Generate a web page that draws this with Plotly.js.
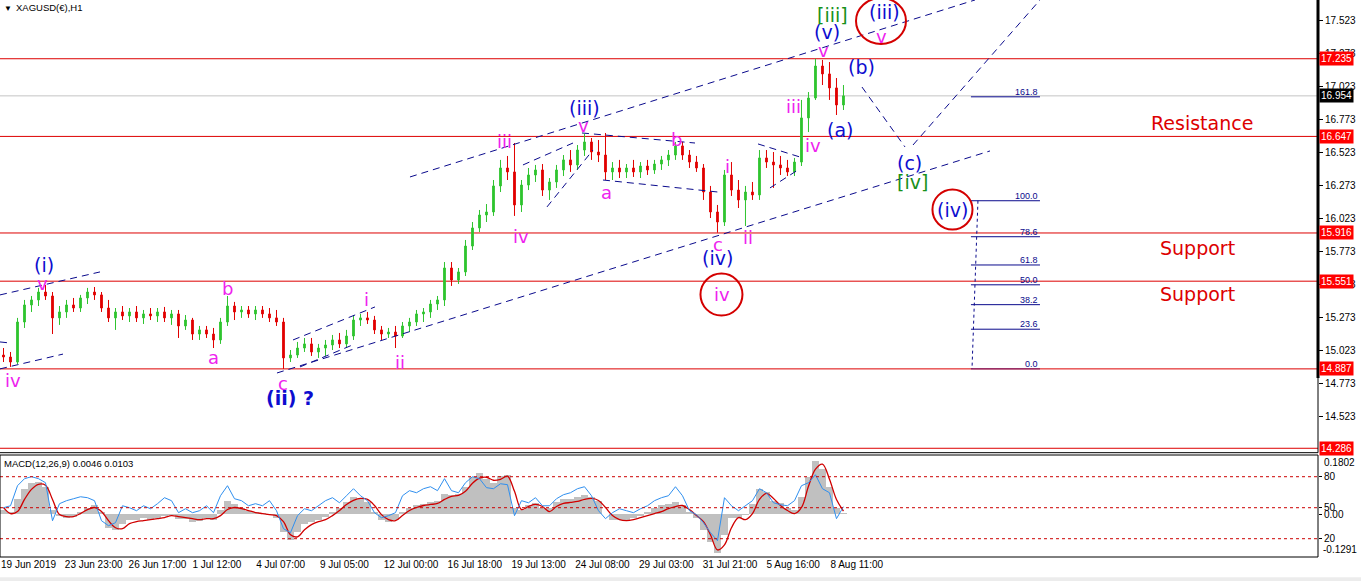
<!DOCTYPE html>
<html><head><meta charset="utf-8">
<script src="https://cdn.plot.ly/plotly-3.0.1.min.js"></script>
<style>html,body{margin:0;padding:0;background:#fff;} #chart{width:1361px;height:581px;}</style>
</head><body><div id="chart"></div>
<script>
// ---------------- DATA ----------------
const candleOpen = [
14.992,14.977,14.939,15.242,15.371,15.409,15.469,15.439,15.273,15.318,
15.371,15.348,15.424,15.469,15.447,15.348,15.273,15.318,15.288,15.318,
15.273,15.303,15.288,15.318,15.273,15.303,15.212,15.257,15.151,15.182,
15.151,15.106,15.242,15.363,15.318,15.333,15.303,15.333,15.303,15.273,
15.242,14.970,14.992,15.045,15.076,15.015,15.045,15.068,15.106,15.076,
15.136,15.257,15.273,15.257,15.182,15.151,15.166,15.136,15.212,15.242,
15.303,15.318,15.378,15.409,15.651,15.560,15.621,15.817,15.954,16.052,
16.075,16.272,16.408,16.378,16.128,16.279,16.355,16.393,16.241,16.302,
16.393,16.469,16.431,16.544,16.605,16.529,16.506,16.378,16.408,16.378,
16.408,16.378,16.423,16.393,16.438,16.469,16.506,16.575,16.506,16.453,
16.408,16.226,16.075,15.999,16.355,16.241,16.166,16.226,16.204,16.484,
16.453,16.431,16.408,16.378,16.453,16.787,16.938,17.180,17.120,17.014,
16.885];
const candleHigh = [
15.045,15.015,15.273,15.409,15.439,15.500,15.522,15.469,15.363,15.409,
15.424,15.447,15.500,15.507,15.469,15.409,15.348,15.363,15.348,15.363,
15.333,15.348,15.348,15.356,15.333,15.333,15.295,15.273,15.212,15.212,
15.197,15.273,15.439,15.394,15.363,15.363,15.363,15.363,15.348,15.333,
15.273,15.030,15.091,15.121,15.121,15.076,15.106,15.144,15.159,15.182,
15.295,15.303,15.318,15.288,15.212,15.197,15.212,15.242,15.273,15.333,
15.348,15.409,15.439,15.696,15.696,15.651,15.863,15.999,16.090,16.135,
16.317,16.469,16.499,16.597,16.317,16.408,16.431,16.438,16.332,16.431,
16.506,16.544,16.582,16.665,16.635,16.620,16.673,16.453,16.469,16.438,
16.469,16.453,16.469,16.469,16.499,16.544,16.605,16.605,16.544,16.499,
16.438,16.272,16.128,16.393,16.453,16.317,16.272,16.302,16.544,16.544,
16.529,16.499,16.469,16.484,16.923,16.983,17.235,17.226,17.210,17.089,
17.036];
const candleLow = [
14.939,14.902,14.924,15.197,15.318,15.363,15.409,15.151,15.220,15.273,
15.318,15.318,15.378,15.409,15.318,15.242,15.182,15.257,15.242,15.242,
15.227,15.257,15.242,15.242,15.220,15.121,15.182,15.106,15.106,15.121,
15.045,15.076,15.212,15.257,15.273,15.273,15.257,15.273,15.242,15.212,
14.887,14.939,14.970,15.015,14.985,14.970,14.985,15.030,15.045,15.045,
15.106,15.212,15.227,15.151,15.106,15.121,15.045,15.121,15.166,15.212,
15.242,15.273,15.333,15.363,15.515,15.530,15.590,15.787,15.923,15.999,
16.045,16.226,16.317,16.045,16.075,16.241,16.302,16.196,16.166,16.257,
16.347,16.378,16.393,16.499,16.469,16.453,16.317,16.317,16.332,16.332,
16.340,16.332,16.355,16.363,16.393,16.423,16.469,16.469,16.408,16.378,
16.166,16.029,15.918,15.969,16.196,16.105,15.969,16.166,16.166,16.408,
16.257,16.355,16.347,16.347,16.423,16.680,16.923,17.036,16.923,16.809,
16.847];
const candleClose = [
14.977,14.939,15.242,15.371,15.409,15.469,15.439,15.273,15.318,15.371,
15.348,15.424,15.469,15.447,15.348,15.273,15.318,15.288,15.318,15.273,
15.303,15.288,15.318,15.273,15.303,15.212,15.257,15.151,15.182,15.151,
15.106,15.242,15.363,15.318,15.333,15.303,15.333,15.303,15.273,15.242,
14.970,14.992,15.045,15.076,15.015,15.045,15.068,15.106,15.076,15.136,
15.257,15.273,15.257,15.182,15.151,15.166,15.136,15.212,15.242,15.303,
15.318,15.378,15.409,15.651,15.560,15.621,15.817,15.954,16.052,16.075,
16.272,16.408,16.378,16.128,16.279,16.355,16.393,16.241,16.302,16.393,
16.469,16.431,16.544,16.605,16.529,16.506,16.378,16.408,16.378,16.408,
16.378,16.423,16.393,16.438,16.469,16.506,16.575,16.506,16.453,16.408,
16.226,16.075,15.999,16.355,16.241,16.166,16.226,16.204,16.484,16.453,
16.431,16.408,16.378,16.453,16.787,16.938,17.180,17.120,17.014,16.885,
16.954];

const macdHist = [
0.0148,0.0087,0.0455,0.0761,0.0945,0.0975,0.0822,0.0148,-0.0035,-0.0096,
-0.0066,0.0087,0.0210,0.0271,0.0087,-0.0403,-0.0464,-0.0280,-0.0158,-0.0158,
-0.0096,-0.0158,-0.0096,-0.0035,-0.0005,-0.0127,-0.0127,-0.0219,-0.0188,-0.0096,
-0.0158,0.0148,0.0393,0.0302,0.0210,0.0118,0.0087,0.0057,-0.0005,-0.0096,
-0.0525,-0.0770,-0.0525,-0.0280,-0.0219,-0.0158,-0.0066,0.0087,0.0210,0.0363,
0.0516,0.0455,0.0363,0.0087,-0.0158,-0.0219,-0.0158,0.0087,0.0210,0.0271,
0.0302,0.0363,0.0393,0.0608,0.0577,0.0608,0.0822,0.1128,0.1251,0.1067,
0.0945,0.1159,0.1190,0.0210,0.0148,0.0271,0.0332,0.0210,0.0210,0.0363,
0.0455,0.0455,0.0516,0.0577,0.0516,0.0393,0.0026,-0.0158,-0.0158,-0.0158,
-0.0096,-0.0035,0.0087,0.0210,0.0271,0.0302,0.0363,0.0271,0.0087,-0.0096,
-0.0464,-0.0831,-0.1168,-0.0617,-0.0096,-0.0096,-0.0005,0.0302,0.0761,0.0669,
0.0393,0.0332,0.0210,0.0148,0.0516,0.1128,0.1618,0.1373,0.0822,0.0210,
0.0046];
const macdSignal = [
0.0210,0.0026,0.0087,0.0455,0.0761,0.0914,0.0883,0.0455,-0.0005,-0.0066,
-0.0066,0.0026,0.0148,0.0210,0.0087,-0.0188,-0.0403,-0.0433,-0.0280,-0.0219,
-0.0188,-0.0158,-0.0127,-0.0096,-0.0035,-0.0066,-0.0096,-0.0127,-0.0158,-0.0127,
-0.0127,-0.0035,0.0148,0.0210,0.0179,0.0118,0.0057,0.0026,-0.0005,-0.0035,
-0.0219,-0.0617,-0.0678,-0.0464,-0.0311,-0.0219,-0.0158,-0.0035,0.0118,0.0302,
0.0424,0.0485,0.0455,0.0271,-0.0005,-0.0158,-0.0188,-0.0035,0.0118,0.0210,
0.0271,0.0302,0.0332,0.0455,0.0547,0.0577,0.0700,0.0945,0.1098,0.1128,
0.1037,0.1067,0.1159,0.0700,0.0148,0.0240,0.0302,0.0240,0.0087,0.0240,
0.0332,0.0363,0.0393,0.0455,0.0485,0.0424,0.0210,-0.0035,-0.0158,-0.0188,
-0.0158,-0.0096,-0.0035,0.0026,0.0087,0.0179,0.0240,0.0271,0.0148,-0.0035,
-0.0219,-0.0617,-0.1076,-0.0923,-0.0403,-0.0096,-0.0158,0.0026,0.0455,0.0639,
0.0485,0.0271,0.0118,0.0026,0.0210,0.0853,0.1373,0.1526,0.1067,0.0455,
0.0103];
const oscLine = [
50.0,51.9,71.3,78.1,80.0,78.1,74.2,37.4,53.9,56.8,
58.7,60.6,59.7,56.8,37.4,32.6,35.5,51.9,50.0,47.1,
51.9,49.0,53.9,59.7,56.8,45.2,49.0,45.2,47.1,51.9,
45.2,61.6,71.3,58.7,56.8,51.9,53.9,51.9,56.8,47.1,
29.7,25.8,42.3,49.0,47.1,51.9,56.8,59.7,54.8,61.6,
68.4,61.6,56.8,45.2,40.3,42.3,45.2,61.6,66.5,64.5,
68.4,70.3,66.5,78.1,66.5,64.5,74.2,80.0,78.1,69.4,
68.4,73.2,72.3,42.3,56.8,54.8,59.7,51.9,51.9,58.7,
62.6,64.5,68.4,70.3,61.6,47.1,39.4,45.2,49.0,47.1,
45.2,49.0,51.9,56.8,59.7,61.6,70.3,61.6,47.1,43.2,
35.5,25.8,18.1,59.7,51.9,47.1,51.9,56.8,68.4,64.5,
54.8,52.9,51.9,56.8,71.3,74.2,81.9,68.4,64.5,39.4,
51.0];
const oscLevels = [80, 50, 20];

const priceLevels = [17.235, 16.647, 15.916, 15.551, 14.887, 14.286];
const bidPrice = 16.954;
const priceTicks = [17.523,17.273,17.023,16.773,16.523,16.273,16.023,15.773,15.523,15.273,15.023,14.773,14.523];

const timeTickText = ['19 Jun 2019','23 Jun 23:00','26 Jun 17:00','1 Jul 12:00','4 Jul 07:00','9 Jul 05:00',
  '12 Jul 00:00','16 Jul 18:00','19 Jul 13:00','24 Jul 08:00','29 Jul 03:00','31 Jul 21:00','5 Aug 16:00','8 Aug 11:00'];
const timeTickPos = [-0.36,8.76,17.87,26.99,36.1,45.21,54.33,63.44,72.56,81.67,90.79,99.9,109.01,118.13];

const fibLevels = [0, 23.6, 38.2, 50, 61.8, 78.6, 100, 161.8];
const fibLabels = ['0.0','23.6','38.2','50.0','61.8','78.6','100.0','161.8'];
const fibLow = 14.887, fibHigh = 16.160;

const macdTitle = 'MACD(12,26,9) 0.0046 0.0103';
const chartTitle = 'XAGUSD(€),H1';

// ---------------- LAYOUT ----------------
const idx = candleOpen.map((_, i) => i);
const mainDom = [0.1873, 1];
const subDom = [0, 0.1831];
const FONT = 'Liberation Sans, Arial, sans-serif';
const LBL = 'DejaVu Sans, Verdana, sans-serif';
const BLUE = '#0d0dcf', MAG = '#ee22ee', RED = '#dd0000', GREEN = '#17911a', NAVY = '#0a0a8c';

const traces = [
  {type:'candlestick', x: idx, open: candleOpen, high: candleHigh, low: candleLow, close: candleClose,
   xaxis:'x', yaxis:'y', hoverinfo:'skip', whiskerwidth:0,
   increasing:{line:{color:'#2fc42f', width:1}, fillcolor:'#2fc42f'},
   decreasing:{line:{color:'#e10000', width:1}, fillcolor:'#e10000'}},
  {type:'bar', x: idx, y: macdHist, xaxis:'x', yaxis:'y2', marker:{color:'#c0c0c0', line:{width:0}}, width:1, hoverinfo:'skip'},
  {type:'scatter', mode:'lines', x: idx, y: oscLine, xaxis:'x', yaxis:'y3', line:{color:'#2f8fef', width:1}, hoverinfo:'skip'},
  {type:'scatter', mode:'lines', x: idx, y: macdSignal, xaxis:'x', yaxis:'y2', line:{color:'#d00000', width:1.3, shape:'spline'}, hoverinfo:'skip'}
];

const shapes = [];
priceLevels.forEach(l => shapes.push({type:'line', xref:'paper', x0:0, x1:1, yref:'y', y0:l, y1:l, line:{color:RED, width:1}, layer:'below'}));
shapes.push({type:'line', xref:'paper', x0:0, x1:1, yref:'y', y0:bidPrice, y1:bidPrice, line:{color:'#c4c4c4', width:1}, layer:'below'});
oscLevels.forEach(l => shapes.push({type:'line', xref:'paper', x0:0, x1:1, yref:'y3', y0:l, y1:l, line:{color:'#cc0000', width:1, dash:'3px,3px'}}));
const tl = [
  [58.07,16.340,138.79,17.680],[39.07,14.856,140.93,16.537],
  [-0.5,15.447,13.79,15.621],[-0.5,14.887,8.5,14.999],[-0.5,15.091,0.93,15.083],
  [41.36,15.106,53.07,15.356],[42.36,14.902,49.86,15.068],
  [74.21,16.431,81.36,16.597],[77.64,16.113,84.21,16.544],
  [82.64,16.673,98.79,16.597],[85.64,16.317,102.07,16.226],
  [107.79,16.590,113.79,16.491],[109.5,16.257,113.5,16.393],
  [122.64,17.021,128.79,16.567],[129.93,16.582,148.07,17.680]
];
tl.forEach(s => shapes.push({type:'line', xref:'x', yref:'y', x0:s[0], y0:s[1], x1:s[2], y1:s[3], line:{color:NAVY, width:1, dash:'7px,5px'}}));
const fibPrice = fibLevels.map(l => fibLow + l / 100 * (fibHigh - fibLow));
fibPrice.forEach((p, i) => shapes.push({type:'line', xref:'x', yref:'y', x0:138.21, x1:148.07, y0:p, y1:p,
  line:{color: fibLevels[i] === 0 ? '#6a126a' : NAVY, width:1}}));
shapes.push({type:'line', xref:'x', yref:'y', x0:139.21, y0:fibHigh, x1:138.36, y1:fibLow, line:{color:NAVY, width:1, dash:'3px,3px'}});
[[121.79,17.347,128.93,17.695],[99.57,15.291,105.57,15.609],[132.71,15.942,138.43,16.245]].forEach(c =>
  shapes.push({type:'circle', xref:'x', yref:'y', x0:c[0], y0:c[1], x1:c[2], y1:c[3], line:{color:'#d40000', width:2}}));
shapes.push({type:'line', xref:'paper', yref:'paper', x0:1, x1:1, y0:1, y1:0.3214, line:{color:'#000', width:3}});
shapes.push({type:'line', xref:'paper', yref:'paper', x0:1, x1:1, y0:0.3214, y1:mainDom[0], line:{color:'#000', width:1}});
shapes.push({type:'line', xref:'paper', yref:'paper', x0:0, x1:1, y0:mainDom[0], y1:mainDom[0], line:{color:'#000', width:1}});
shapes.push({type:'rect', xref:'paper', yref:'paper', x0:0, x1:1, y0:0, y1:subDom[1], line:{color:'#000', width:1}});
shapes.push({type:'rect', xref:'paper', yref:'paper', x0:0, x1:1.04, y0:-0.0365, y1:-0.045, line:{width:0}, fillcolor:'#ececec'});

const ann = [];
function lab(text, x, y, color, size, bold){
  ann.push({text: bold ? '<b>'+text+'</b>' : text, x, y, xref:'x', yref:'y', showarrow:false,
    font:{family:LBL, size:size, color:color}});
}
[['iv',1.36,14.796],['v',5.5,15.537],['a',29.93,14.970],['b',32.07,15.492],['c',39.93,14.780],
 ['i',51.79,15.409],['ii',56.64,14.932],['iii',71.64,16.605],['iv',73.93,15.886],['v',82.79,16.733],
 ['a',86.21,16.219],['b',96.21,16.620],['c',102.07,15.825],['i',103.36,16.416],['ii',106.36,15.878],
 ['iii',112.93,16.877],['iv',115.64,16.575],['v',117.21,17.301],['iv',102.64,15.447],['v',125.36,17.400]
].forEach(a => lab(a[0], a[1], a[2], MAG, 18));
[['(i)',5.79,15.674],['(iii)',83.07,16.862],['(iv)',102.07,15.727],['(v)',117.64,17.437],
 ['(a)',119.5,16.696],['(b)',122.64,17.173],['(c)',129.5,16.446],['(iii)',125.79,17.589],['(iv)',135.64,16.090]
].forEach(a => lab(a[0], a[1], a[2], BLUE, 19));
lab('(ii) ?', 40.93, 14.667, BLUE, 19, true);
lab('[iii]', 118.36, 17.566, GREEN, 19);
lab('[iv]', 129.93, 16.302, GREEN, 19);
lab('Resistance', 171.21, 16.749, RED, 19);
lab('Support', 170.64, 15.802, RED, 19);
lab('Support', 170.64, 15.454, RED, 19);
fibPrice.forEach((p, i) => ann.push({text: fibLabels[i], x:148.07, y:p, xref:'x', yref:'y', xanchor:'right', yanchor:'bottom',
  showarrow:false, yshift:-2, font:{family:FONT, size:9, color:NAVY}}));
priceLevels.forEach(l => ann.push({text: l.toFixed(3), x:1, y:l, xref:'paper', yref:'y', xanchor:'left', xshift:1,
  showarrow:false, bgcolor:'#ff0000', borderpad:1, font:{family:FONT, size:10, color:'#fff'}}));
ann.push({text: bidPrice.toFixed(3), x:1, y:bidPrice, xref:'paper', yref:'y', xanchor:'left', xshift:1,
  showarrow:false, bgcolor:'#000', borderpad:1, font:{family:FONT, size:10, color:'#fff'}});
ann.push({text:'▼', x:0, y:1, xref:'paper', yref:'paper', xanchor:'left', yanchor:'top', xshift:2, yshift:-2, showarrow:false, font:{family:FONT, size:8, color:'#000'}});
ann.push({text:chartTitle, x:0, y:1, xref:'paper', yref:'paper', xanchor:'left', yanchor:'top', xshift:14, yshift:0, showarrow:false, font:{family:FONT, size:9.5, color:'#000'}});
ann.push({text:macdTitle, x:0, y:subDom[1], xref:'paper', yref:'paper', xanchor:'left', yanchor:'top', xshift:2, yshift:-1, showarrow:false, font:{family:FONT, size:9.5, color:'#000'}});
ann.push({text:'0.1802', x:1, y:0.1802, xref:'paper', yref:'y2', xanchor:'left', yanchor:'top', xshift:4, showarrow:false, font:{family:FONT, size:10, color:'#000'}});
ann.push({text:'-0.1291', x:1, y:-0.1291, xref:'paper', yref:'y2', xanchor:'left', yanchor:'bottom', xshift:3, showarrow:false, font:{family:FONT, size:10, color:'#000'}});

const layout = {
  width:1361, height:581, margin:{l:0, r:43, t:0, b:24}, paper_bgcolor:'#fff', plot_bgcolor:'#fff',
  showlegend:false, hovermode:false, bargap:0, boxgap:0.65, font:{family:FONT, size:10, color:'#000'},
  xaxis:{range:[-0.5, 187.79], anchor:'y2', showgrid:false, zeroline:false, showline:false, ticks:'',
    tickvals: timeTickPos, ticktext: timeTickText, tickangle:0, ticklabelposition:'outside right', tickfont:{size:10, family:FONT},
    rangeslider:{visible:false}, fixedrange:true},
  yaxis:{domain:mainDom, range:[14.2527, 17.6797], side:'right', anchor:'x', showgrid:false, zeroline:false, showline:false,
    ticks:'outside', ticklen:4, tickcolor:'#000', tickvals: priceTicks, ticktext: priceTicks.map(v => v.toFixed(3)),
    tickfont:{size:10, family:FONT}, fixedrange:true},
  yaxis2:{domain:subDom, range:[-0.1291, 0.1802], side:'right', anchor:'x', showgrid:false, zeroline:false, showline:false,
    ticks:'outside', ticklen:3, tickcolor:'#000', tickvals:[0], ticktext:['0.00'], tickfont:{size:10, family:FONT}, fixedrange:true},
  yaxis3:{overlaying:'y2', range:[2.3, 101], side:'right', anchor:'x', showgrid:false, zeroline:false, showline:false,
    ticks:'outside', ticklen:3, tickcolor:'#000', tickvals: oscLevels, ticktext: oscLevels.map(String), tickfont:{size:10, family:FONT}, fixedrange:true},
  shapes, annotations: ann
};
Plotly.newPlot('chart', traces, layout, {staticPlot:true, displayModeBar:false});
</script>
</body></html>
